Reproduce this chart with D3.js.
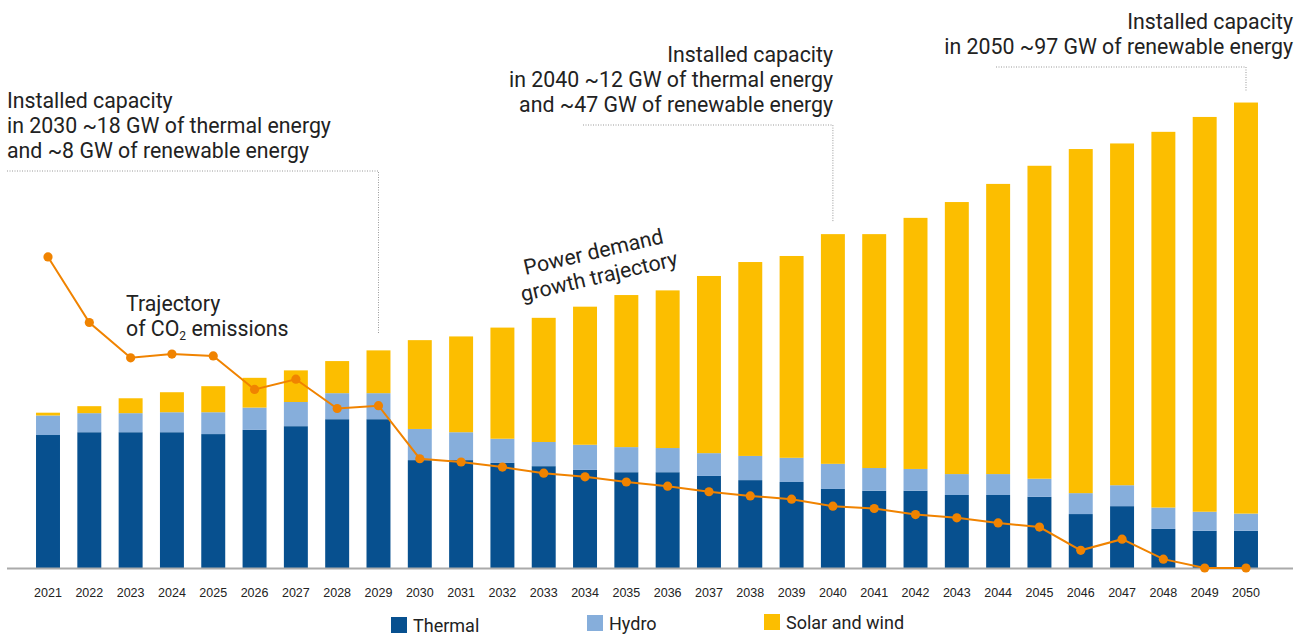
<!DOCTYPE html>
<html>
<head>
<meta charset="utf-8">
<script src="https://cdn.jsdelivr.net/npm/d3@7"></script>
<style>
  body { margin: 0; background: #fff; }
  .note { font-family: Roboto, "Noto Sans", sans-serif; font-size: 21.3px; fill: #222; }
  .legend { font-family: Roboto, "Noto Sans", sans-serif; font-size: 18px; fill: #222; }
  .tick { font-family: "Liberation Sans", Arial, sans-serif; font-size: 12.5px; fill: #222; }
  .leader { fill: none; stroke: #999; stroke-width: 1; stroke-dasharray: 1,1.5; }
</style>
</head>
<body>
<div id="chart"></div>
<script>
// Installed capacity by source, 2021-2050, with CO2 trajectory

var years = [ "2021", "2022", "2023", "2024", "2025", "2026", "2027", "2028", "2029", "2030",
              "2031", "2032", "2033", "2034", "2035", "2036", "2037", "2038", "2039", "2040",
              "2041", "2042", "2043", "2044", "2045", "2046", "2047", "2048", "2049", "2050" ];

// values (chart units, 2050 total = 100)
var thermal = [ 28.6, 29.2, 29.2, 29.2, 28.8, 29.7, 30.5, 32.0, 32.0, 23.2,
                23.2, 22.6, 21.9, 21.1, 20.6, 20.6, 19.8, 18.9, 18.5, 17.0,
                16.6, 16.6, 15.7, 15.7, 15.3, 11.6, 13.3, 8.4, 8.0, 8.0 ];
var hydro = [ 4.2, 4.1, 4.1, 4.3, 4.7, 4.8, 5.2, 5.6, 5.6, 6.7,
              6.0, 5.2, 5.2, 5.4, 5.4, 5.2, 4.9, 5.2, 5.2, 5.4,
              4.9, 4.7, 4.5, 4.5, 3.9, 4.5, 4.5, 4.6, 4.1, 3.7 ];
var solarWind = [ 0.6, 1.5, 3.2, 4.3, 5.6, 6.4, 6.8, 6.9, 9.2, 19.1,
                  20.6, 23.9, 26.7, 29.7, 32.7, 33.9, 38.1, 41.7, 43.4, 49.4,
                  50.3, 54.0, 58.5, 62.4, 67.3, 74.0, 73.5, 80.8, 84.9, 88.4 ];
var co2 = [ 66.9, 52.8, 45.2, 46.0, 45.6, 38.4, 40.6, 34.3, 34.9, 23.5,
            22.8, 21.7, 20.4, 19.6, 18.5, 17.6, 16.4, 15.5, 14.8, 13.3,
            12.8, 11.5, 10.8, 9.7, 8.8, 3.8, 6.2, 1.9, 0, 0 ];

var seriesNames = [ "Thermal", "Hydro", "Solar and wind" ];
var seriesKeys = [ "thermal", "hydro", "solar" ];
var COLORS = [ "#07508f", "#86aedb", "#fcbe00" ];
var LINE_COLOR = "#f08300";

var note2030 = [ "Installed capacity", "in 2030 ~18 GW of thermal energy", "and ~8 GW of renewable energy" ];
var note2040 = [ "Installed capacity", "in 2040 ~12 GW of thermal energy", "and ~47 GW of renewable energy" ];
var note2050 = [ "Installed capacity", "in 2050 ~97 GW of renewable energy" ];
var demandNote = [ "Power demand", "growth trajectory" ];

var WIDTH = 1306;
var HEIGHT = 634;
var BASE = 568;
var LEADING = 25;

var rows = years.map(function(y, i) {
    return { year: y, thermal: thermal[i], hydro: hydro[i], solar: solarWind[i], co2: co2[i] };
});

var x = d3.scaleBand()
    .domain(years)
    .range([27.35, 1266.65])
    .paddingInner(0.42)
    .paddingOuter(0.21);

var y = d3.scaleLinear()
    .domain([0, 100])
    .range([BASE, 103]);

function cx(year) {
    return x(year) + x.bandwidth() / 2;
}

function total(i) {
    return thermal[i] + hydro[i] + solarWind[i];
}

var svg = d3.select("#chart").append("svg")
    .attr("width", WIDTH)
    .attr("height", HEIGHT);

// stacked bars
var stack = d3.stack().keys(seriesKeys)(rows);

svg.selectAll("g.layer")
    .data(stack)
    .enter()
    .append("g")
    .attr("class", "layer")
    .attr("fill", function(d, i) { return COLORS[i]; })
    .selectAll("rect")
    .data(function(d) { return d; })
    .enter()
    .append("rect")
    .attr("x", function(d) { return x(d.data.year); })
    .attr("width", x.bandwidth())
    .attr("y", function(d) { return y(d[1]); })
    .attr("height", function(d) { return y(d[0]) - y(d[1]); });

// baseline + year labels
svg.append("line")
    .attr("x1", 7).attr("x2", 1293)
    .attr("y1", BASE + 0.5).attr("y2", BASE + 0.5)
    .attr("stroke", "#aaa")
    .attr("stroke-width", 2);

var axis = svg.append("g")
    .attr("transform", "translate(0," + BASE + ")")
    .call(d3.axisBottom(x).tickSize(0).tickPadding(20));
axis.select(".domain").remove();
axis.selectAll("text")
    .attr("class", "tick")
    .attr("fill", "#222")
    .style("font-family", "'Liberation Sans', Arial, sans-serif")
    .style("font-size", "12.5px");

// CO2 line
var line = d3.line()
    .x(function(d) { return cx(d.year); })
    .y(function(d) { return y(d.co2); });

svg.append("path")
    .datum(rows)
    .attr("fill", "none")
    .attr("stroke", LINE_COLOR)
    .attr("stroke-width", 2)
    .attr("d", line);

svg.selectAll("circle.co2")
    .data(rows)
    .enter()
    .append("circle")
    .attr("class", "co2")
    .attr("cx", function(d) { return cx(d.year); })
    .attr("cy", function(d) { return y(d.co2); })
    .attr("r", 4.6)
    .attr("fill", LINE_COLOR);

// annotations with dotted leaders
function add_note(lines, tx, ty, anchor) {
    var t = svg.append("text")
        .attr("class", "note")
        .attr("text-anchor", anchor);
    for( var l = 0; l < lines.length; l++ ) {
        t.append("tspan")
            .attr("x", tx)
            .attr("y", ty + l * LEADING)
            .text(lines[l]);
    }
}

function add_leader(x0, ly, year, gap) {
    var i = years.indexOf(year);
    var bx = cx(year);
    svg.append("path")
        .attr("class", "leader")
        .attr("d", "M" + x0 + "," + ly + "H" + bx + "V" + (y(total(i)) - gap));
}

add_note(note2030, 7, 108, "start");
add_leader(7, 171, "2029", 16);

add_note(note2040, 833, 62, "end");
add_leader(583, 125, "2040", 12);

add_note(note2050, 1293, 29, "end");
add_leader(996, 67, "2050", 11);

// CO2 label
var co2Label = svg.append("text").attr("class", "note");
co2Label.append("tspan").attr("x", 126).attr("y", 311).text("Trajectory");
co2Label.append("tspan").attr("x", 126).attr("y", 336).text("of CO");
co2Label.append("tspan").attr("font-size", 12).attr("dy", 4).text("2");
co2Label.append("tspan").attr("dy", -4).text(" emissions");

// demand label, tilted along the bar tops
var demand = svg.append("text")
    .attr("class", "note")
    .attr("text-anchor", "middle")
    .attr("transform", "translate(595,259) rotate(-13)");
demandNote.forEach(function(s, l) {
    demand.append("tspan").attr("x", 0).attr("y", l * LEADING).text(s);
});

// legend
var legendX = [ 391, 587, 764 ];
var legendY = [ 617, 615, 614 ];

var legend = svg.selectAll("g.legend")
    .data(seriesNames)
    .enter()
    .append("g")
    .attr("class", "legend")
    .attr("transform", function(d, i) { return "translate(" + legendX[i] + "," + legendY[i] + ")"; });

legend.append("rect")
    .attr("width", 16)
    .attr("height", 16)
    .attr("fill", function(d, i) { return COLORS[i]; });

legend.append("text")
    .attr("class", "legend")
    .attr("x", 22)
    .attr("y", 15)
    .text(function(d) { return d; });
</script>
</body>
</html>
